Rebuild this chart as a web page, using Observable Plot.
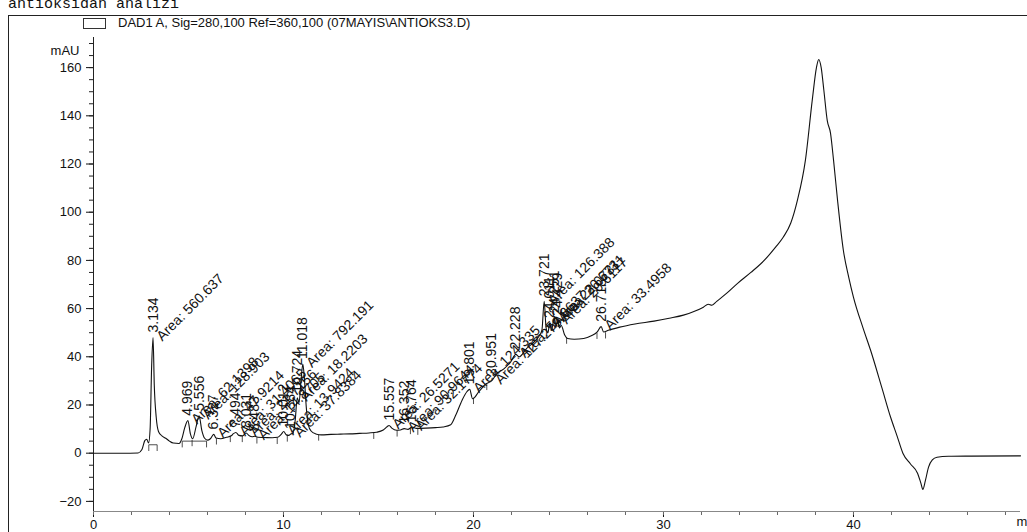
<!DOCTYPE html>
<html>
<head>
<meta charset="utf-8">
<script src="https://cdn.jsdelivr.net/npm/d3@7"></script>
<script src="https://cdn.jsdelivr.net/npm/@observablehq/plot@0.6"></script>
<style>
  html, body { margin: 0; padding: 0; background: #fff; }
  #page { position: relative; width: 1027px; height: 532px; overflow: hidden; background: #fff; }
  #chart { position: absolute; left: 0; top: 0; }
  #frame { position: absolute; left: 8px; top: 15px; width: 1040px; height: 540px;
           border-top: 1px solid #222; border-left: 1px solid #222; }
  #title { position: absolute; left: 8px; top: -3px; font-family: "Liberation Mono", "DejaVu Sans Mono", monospace;
           font-size: 15px; line-height: 15px; color: #111; white-space: pre; }
  #swatch { position: absolute; left: 83px; top: 18px; width: 21px; height: 9px; border: 1px solid #333; }
  #legend { position: absolute; left: 118px; top: 16px; font-family: "Liberation Sans", Arial, sans-serif;
            font-size: 13px; line-height: 13px; color: #111; white-space: pre; }
</style>
</head>
<body>
<div id="page">
  <div id="chart"></div>
  <div id="frame"></div>
  <div id="title">antioksidan analizi</div>
  <div id="swatch"></div>
  <div id="legend">DAD1 A, Sig=280,100 Ref=360,100 (07MAYIS\ANTIOKS3.D)</div>
</div>
<script>
// Axis ticks
const xMajor = [0, 10, 20, 30, 40];
const xMinor = d3.range(0, 49, 2);
const yMajor = [-20, 0, 20, 40, 60, 80, 100, 120, 140, 160];
const yMinor = d3.range(-20, 171, 5);

// Integrated peaks: retention time (min), apex height (mAU), area
const peakRT     = [3.134, 4.969, 5.556, 6.327, 7.494, 8.031, 8.483, 10.012, 10.384, 10.724, 11.018,
                    15.557, 16.352, 16.764, 19.801, 20.951, 22.228, 23.721, 24.011, 24.251, 24.429, 26.718];
const peakHeight = [48, 13.5, 15.5, 7.8, 8.6, 8.4, 7.0, 9.0, 8.0, 23, 37,
                    11.5, 10.2, 10.8, 26.5, 30, 41, 63, 54, 56, 55, 52.5];
const peakArea   = ["560.637", "62.1398", "128.903", "47.9214", "31.4065", "21.7156", "14.8705", "13.9424", "37.8384", "18.2203", "792.191",
                    "26.5271", "90.9644", "32.1774", "124.335", "127.279", "54.8637", "126.388", "22.0731", "20.6731", "20.6117", "33.4958"];

// DAD signal between the labelled apexes: [time (min), mAU]
const signal = [
  [0, 0], [1.5, 0], [2.35, 0.1], [2.55, 1.5], [2.7, 5.2], [2.8, 5.8], [2.9, 4.2], [2.98, 10], [3.06, 36],
  [3.2, 28], [3.3, 15], [3.42, 9], [3.6, 7.2], [3.8, 6.2], [4.0, 5.0], [4.2, 4.2], [4.5, 4.0], [4.65, 6.0],
  [4.8, 10.5], [5.1, 8], [5.22, 6.0], [5.4, 11], [5.7, 9.5], [5.85, 6.2], [6.0, 5.4], [6.15, 6.0], [6.45, 6.3],
  [6.7, 6.0], [7.0, 6.6], [7.25, 7.2], [7.35, 8.0], [7.65, 7.4], [7.85, 7.2], [8.2, 7.2], [8.35, 6.8],
  [8.65, 6.6], [9.0, 6.5], [9.4, 6.4], [9.7, 6.6], [9.88, 7.8], [10.15, 7.6], [10.28, 7.4], [10.5, 8.2],
  [10.62, 14], [10.82, 21], [10.92, 30], [11.1, 31], [11.2, 19], [11.3, 12], [11.45, 9.2], [11.7, 8.0],
  [12.0, 7.6], [12.5, 7.8], [13.0, 7.9], [13.5, 8.0], [14.0, 8.2], [14.5, 8.4], [14.9, 8.7], [15.25, 9.6],
  [15.45, 11.0], [15.7, 10.4], [15.95, 9.5], [16.15, 9.6], [16.55, 9.9], [17.0, 10.3], [17.5, 10.4],
  [18.0, 10.6], [18.4, 10.9], [18.8, 11.8], [19.05, 15.5], [19.4, 22], [19.65, 25.5], [19.95, 22.6],
  [20.28, 25.5], [20.63, 28.6], [21.25, 33.2], [21.6, 35], [21.95, 37.8], [22.4, 40], [22.8, 43.5],
  [23.1, 45.5], [23.4, 48], [23.6, 51], [23.82, 52], [23.92, 50], [24.1, 51], [24.33, 52], [24.52, 52],
  [24.62, 53], [24.8, 49], [24.95, 47.6], [25.3, 47.3], [25.8, 47.6], [26.2, 48.7], [26.5, 50.2],
  [26.85, 50.3], [27.1, 51], [27.7, 52.3], [28.5, 53.6], [29.5, 54.8], [30.3, 56], [31.05, 57.3],
  [31.6, 58.8], [32.1, 60.6], [32.35, 61.8], [32.55, 61.4], [32.8, 63], [33.3, 66.2], [33.9, 70.5],
  [34.6, 75], [35.3, 80], [35.9, 85.5], [36.3, 89.6], [36.7, 95.5], [37.05, 105], [37.47, 121.6],
  [37.83, 146.5], [38.05, 160], [38.17, 163.4], [38.3, 160], [38.44, 150.6], [38.62, 138], [38.79, 132.8],
  [38.95, 121.6], [39.16, 105], [39.47, 84], [39.75, 73], [40.0, 64.7], [40.5, 52], [40.9, 42.7],
  [41.5, 27], [41.95, 15], [42.3, 7], [42.6, 0], [43.0, -4.5], [43.37, -8.3], [43.55, -12.5], [43.65, -15],
  [43.78, -11.5], [43.95, -5.8], [44.15, -2.8], [44.4, -1.7], [45.0, -1.3], [46.2, -1.2], [48.79, -1.1]
];

// Integration baselines [t0, v0, t1, v1] and peak boundary marks [t, v]
const baselines = [[2.91, 3.5, 3.35, 3.5], [4.67, 5.0, 5.95, 5.0]];
const boundaries = [[2.91, 3.5], [3.35, 3.5], [4.67, 5.0], [5.19, 5.5], [5.95, 5.0], [6.47, 6.2], [7.2, 7.2],
  [7.83, 7.2], [8.6, 6.6], [9.67, 6.4], [10.2, 7.4], [11.85, 7.8], [14.75, 8.5], [15.98, 9.5], [16.68, 10.5],
  [17.07, 10.2], [20.0, 23], [20.7, 28.8], [24.9, 48], [26.5, 50], [26.95, 50.2]];

const xMax = 48.79, yMin = -24.2, yMax = 172.5;

const peaks = peakRT.map((rt, i) => ({rt, h: peakHeight[i], area: peakArea[i]}));
const trace = signal.map(([t, v]) => ({t, v}))
  .concat(peaks.map(p => ({t: p.rt, v: p.h})))
  .sort((a, b) => a.t - b.t);

const chart = Plot.plot({
  width: 1027,
  height: 532,
  marginLeft: 93,
  marginRight: 7,
  marginTop: 37,
  marginBottom: 21,
  x: {domain: [0, xMax], ticks: xMajor, tickSize: 6, tickPadding: 2, tickFormat: d3.format("d"), label: null},
  y: {domain: [yMin, yMax], ticks: yMajor, tickSize: 7, tickPadding: 5, tickFormat: d3.format("d"), label: null},
  style: {fontFamily: "'Liberation Sans', Arial, sans-serif", fontSize: "13px", background: "transparent", color: "#111"},
  marks: [
    // minor ticks on both axes
    Plot.ruleY(yMinor, {x1: 0, x2: 0, insetLeft: -4, stroke: "#222"}),
    Plot.ruleX(xMinor, {y1: yMin, y2: yMin, insetBottom: -4, stroke: "#666"}),
    // axis lines
    Plot.ruleX([0], {y1: yMin, y2: yMax, stroke: "#222"}),
    Plot.ruleY([yMin], {x1: 0, x2: xMax, stroke: "#888"}),
    Plot.text(["mAU"], {text: d => d, frameAnchor: "top-left", dx: -14, dy: 8, textAnchor: "end", fontSize: 13}),
    Plot.text(["min"], {text: d => d, frameAnchor: "bottom-right", dx: -4, dy: 14, textAnchor: "start", fontSize: 13}),
    // integration marks
    Plot.link(baselines, {x1: d => d[0], y1: d => d[1], x2: d => d[2], y2: d => d[3], stroke: "#222", strokeWidth: 0.8}),
    Plot.link(boundaries, {x1: d => d[0], x2: d => d[0], y1: d => d[1], y2: d => d[1] - 2.6, stroke: "#222", strokeWidth: 0.8}),
    // chromatogram
    Plot.line(trace, {x: "t", y: "v", curve: "monotone-x", stroke: "#111", strokeWidth: 1.1}),
    // peak annotations
    Plot.text(peaks, {x: "rt", y: "h", text: d => d.rt.toFixed(3), rotate: -90, textAnchor: "start",
                      lineAnchor: "middle", dy: -5, fontSize: 14, fill: "#111"}),
    Plot.text(peaks, {x: "rt", y: "h", text: d => `Area: ${d.area}`, rotate: -45, textAnchor: "start",
                      lineAnchor: "middle", dx: 6, dy: 1, fontSize: 14, fill: "#111"})
  ]
});

document.getElementById("chart").appendChild(chart);
</script>
</body>
</html>
